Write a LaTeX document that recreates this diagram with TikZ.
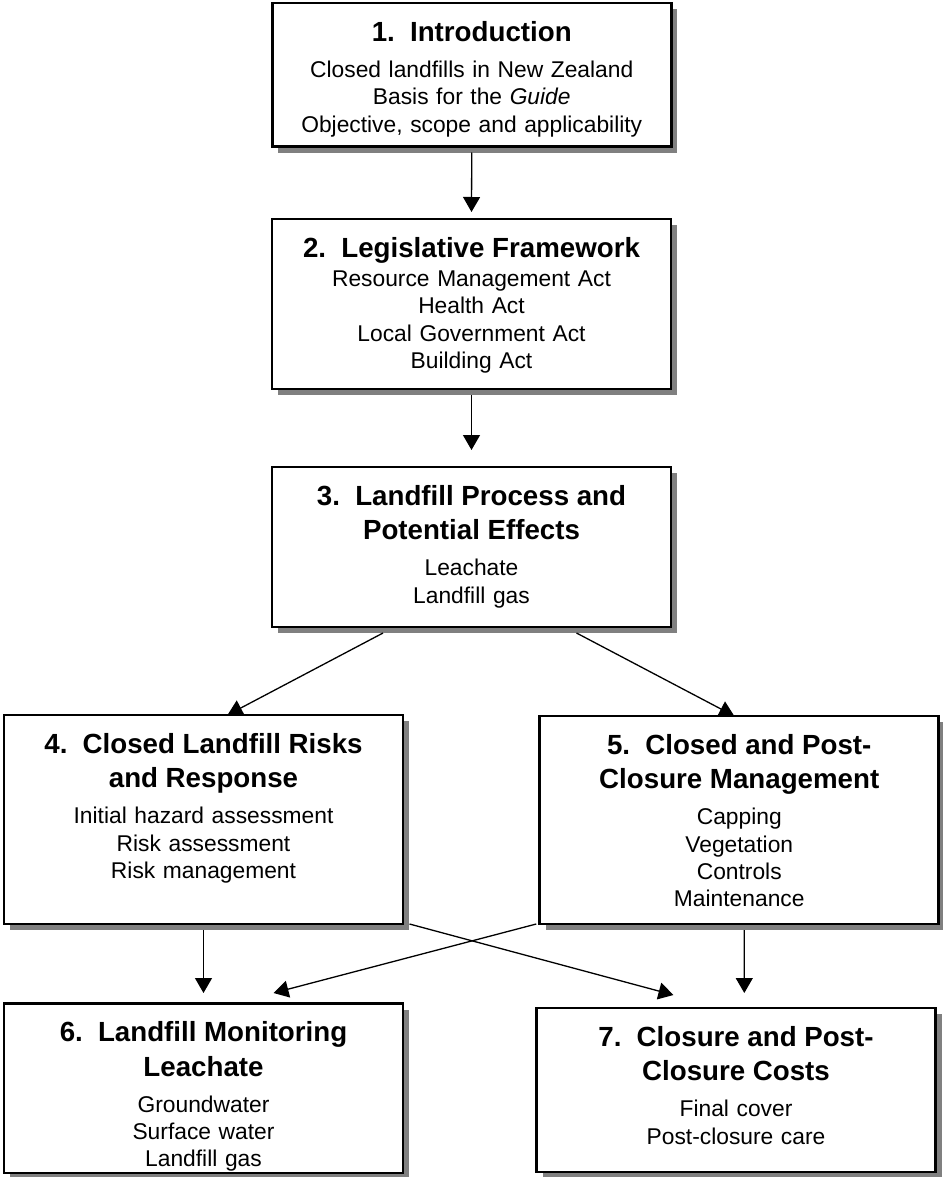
\documentclass[tikz,border=0pt]{standalone}
\usepackage{fontspec}
\setmainfont{Liberation Sans}
\usetikzlibrary{arrows.meta,calc,shadows}
\tikzset{sect/.style={draw, line width=1.3pt, fill=white, drop shadow={shadow xshift=3pt, shadow yshift=-3pt, fill=black!50, opacity=1}, anchor=north, inner sep=0pt, outer sep=0pt, text width=199.5pt, align=center, text height=19.15pt, font=\fontsize{11.4pt}{13.7pt}\selectfont}}
\tikzset{link/.style={line width=0.65pt, -{Triangle[width=8.5pt,length=7.5pt]}}}
\newcommand{\sectitle}[1]{{\fontsize{13.85pt}{17.15pt}\selectfont\bfseries #1\par}}

\begin{document}
\begin{tikzpicture}[x=0.5pt, y=-0.5pt]
\useasboundingbox (0,0) rectangle (942,1177);
\node[sect, text depth=52.6pt] (intro) at (471.75,3) {\sectitle{1.\ \ Introduction}\vspace{4.3pt}Closed landfills in New Zealand\\Basis for the \textit{Guide}\\Objective, scope and applicability};
\node[sect, text depth=65.85pt] (legis) at (471.5,219) {\sectitle{2.\ \ Legislative Framework}\vspace{0.8pt}Resource Management Act\\Health Act\\Local Government Act\\Building Act};
\node[sect, text depth=60.85pt] (process) at (471.5,467) {\sectitle{3.\ \ Landfill Process and\\Potential Effects}\vspace{4.3pt}Leachate\\Landfill gas};
\node[sect, text depth=85.35pt] (risks) at (203.5,715) {\sectitle{4.\ \ Closed Landfill Risks\\and Response}\vspace{4.3pt}Initial hazard assessment\\Risk assessment\\Risk management};
\node[sect, text depth=84.85pt] (manage) at (739.25,716) {\sectitle{5.\ \ Closed and Post-\\Closure Management}\vspace{4.3pt}Capping\\Vegetation\\Controls\\Maintenance};
\node[sect, text depth=65.6pt] (monitor) at (203.5,1003.5) {\sectitle{6.\ \ Landfill Monitoring\\Leachate}\vspace{4.3pt}Groundwater\\Surface water\\Landfill gas};
\node[sect, text depth=62.85pt] (costs) at (736,1008) {\sectitle{7.\ \ Closure and Post-\\Closure Costs}\vspace{4.3pt}Final cover\\Post-closure care};
% connectors
\draw[link] ($(intro.south)+(0,6)$) -- ($(legis.north)+(0,-7)$);
\draw[link] ($(legis.south)+(0,6)$) -- ($(process.north)+(0,-17)$);
\draw[link] ($(process.south)+(-88.5,6)$) -- ($(risks.north)+(24,0)$);
\draw[link] ($(process.south)+(105,6)$) -- ($(manage.north)+(-5,0)$);
\draw[link] ($(risks.south)+(0,6)$) -- ($(monitor.north)+(0,-10.5)$);
\draw[link] ($(manage.south)+(5,6)$) -- ($(costs.north)+(8.3,-15)$);
\draw[link] ($(risks.south east)+(6.5,0)$) -- ($(costs.north west)+(137,-13)$);
\draw[link] ($(manage.south west)+(-3.5,0)$) -- ($(monitor.north west)+(269.5,-10.5)$);
\end{tikzpicture}
\end{document}
